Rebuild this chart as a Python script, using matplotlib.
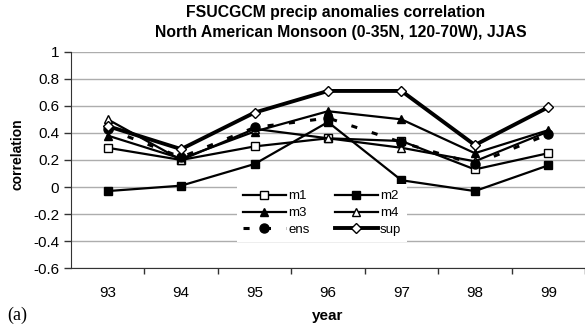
import matplotlib
matplotlib.use("Agg")
import matplotlib.pyplot as plt

# Data
years = ["93", "94", "95", "96", "97", "98", "99"]
m1 = [0.29, 0.20, 0.30, 0.36, 0.34, 0.13, 0.25]
m2 = [-0.03, 0.01, 0.17, 0.48, 0.05, -0.03, 0.16]
m3 = [0.38, 0.21, 0.41, 0.56, 0.50, 0.25, 0.42]
m4 = [0.50, 0.20, 0.43, 0.36, 0.29, 0.19, 0.41]
ens = [0.43, 0.22, 0.44, 0.51, 0.33, 0.17, 0.39]
sup = [0.45, 0.28, 0.55, 0.71, 0.71, 0.31, 0.59]
yticks = [-0.6, -0.4, -0.2, 0, 0.2, 0.4, 0.6, 0.8, 1]
ytick_labels = ["-0.6", "-0.4", "-0.2", "0", "0.2", "0.4", "0.6", "0.8", "1"]

plt.rcParams["font.family"] = ["Liberation Sans", "DejaVu Sans"]

W, H = 585, 331
fig = plt.figure(figsize=(W / 100, H / 100), dpi=100)
ax = fig.add_axes([71 / W, 1 - 268.2 / H, 1 - 71 / W, (268.2 - 51.7) / H])

x = list(range(len(years)))

# thin model lines
l1, = ax.plot(x, m1, color="black", lw=1.6, marker="s", ms=5.5, mfc="white", mec="black", mew=1.0, label="m1", zorder=3)
l2, = ax.plot(x, m2, color="black", lw=1.6, marker="s", ms=5.5, mfc="black", mec="black", label="m2", zorder=3)
l3, = ax.plot(x, m3, color="black", lw=1.6, marker="^", ms=6, mfc="black", mec="black", label="m3", zorder=3)
l4, = ax.plot(x, m4, color="black", lw=1.6, marker="^", ms=6, mfc="white", mec="black", mew=1.0, label="m4", zorder=3)
# ensemble mean, dashed
l5, = ax.plot(x, ens, color="black", lw=2.2, ls=(0, (2.0, 5.0)), marker="o", ms=6.5, mfc="black", mec="black", label="ens", zorder=4)
# superensemble, thick
l6, = ax.plot(x, sup, color="black", lw=2.8, marker="D", ms=5.5, mfc="white", mec="black", mew=1.0, label="sup", zorder=5)

ax.set_xlim(-0.5, 6.44)
ax.set_ylim(-0.6, 1.0)
ax.set_yticks(yticks)
ax.set_yticklabels(ytick_labels)
ax.grid(axis="y", color="#adadad", lw=1.0)
ax.set_axisbelow(True)

# category ticks between the labels
ax.set_xticks([i + 0.5 for i in range(len(years))])
ax.set_xticklabels([])
ax.set_xticks(x, minor=True)
ax.set_xticklabels(years, minor=True)
ax.tick_params(axis="x", which="minor", length=0, pad=13, labelsize=11)
ax.tick_params(axis="x", which="major", length=4, direction="out", width=1, color="#333333")
ax.tick_params(axis="y", length=5, direction="out", width=1, labelsize=11, pad=3.5, color="#333333")

for side in ["top", "right"]:
    ax.spines[side].set_visible(False)
ax.spines["left"].set_color("#333333")
ax.spines["bottom"].set_color("#333333")

# axis labels, title and panel letter
fig.text(17 / W, 1 - 154 / H, "correlation", rotation=90, ha="center", va="center", fontsize=10, fontweight="bold")
fig.text(328 / W, 1 - 320 / H, "year", ha="center", va="baseline", fontsize=11, fontweight="bold")
fig.text(336 / W, 1 - 17 / H, "FSUCGCM precip anomalies correlation", ha="center", va="baseline",
         fontsize=11.3, fontweight="bold")
fig.text(341 / W, 1 - 37 / H, "North American Monsoon (0-35N, 120-70W), JJAS", ha="center", va="baseline",
         fontsize=11.3, fontweight="bold")
fig.text(7 / W, 1 - 320 / H, "(a)", va="baseline", fontsize=13, family=["Liberation Serif", "DejaVu Serif"])

# legend filled row by row: m1 m2 / m3 m4 / ens sup
handles = [l1, l3, l5, l2, l4, l6]
labels = [h.get_label() for h in handles]
leg = ax.legend(handles, labels, ncol=2, loc="center", bbox_to_anchor=((322 - 71) / 514, (268.2 - 213) / 216.5),
                fontsize=9.5, frameon=True, fancybox=False, edgecolor="none", facecolor="white", framealpha=1,
                handlelength=3.3, columnspacing=1.9, labelspacing=0.36, handletextpad=0.15,
                borderpad=0.45)

fig.savefig("out.png", dpi=100)
